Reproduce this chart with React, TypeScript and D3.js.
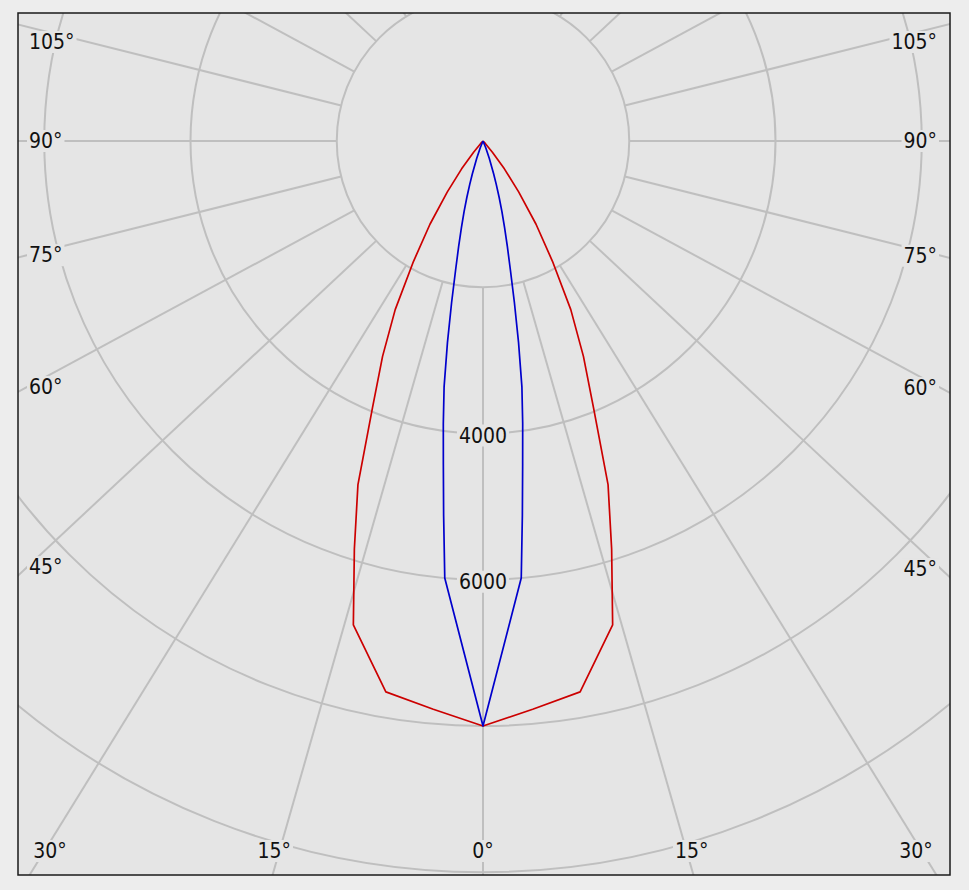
import React, { useEffect, useRef } from 'react';
import * as d3 from 'd3';

// ---- data (candela values) ----
const redAngles = [0, 5, 10, 15, 17.5, 20, 22.5, 25, 27.5, 30, 32.5, 35, 37.5, 40, 42.5, 45, 90];
const redValues = [8000, 7800, 7650, 6850, 5850, 5000, 3950, 3250, 2600, 1900, 1350, 850, 480, 200, 50, 0, 0];
const blueAngles = [0, 5, 6, 7, 8, 9, 10, 11, 12, 13, 14, 15, 16, 17, 18, 20, 22, 25, 90];
const blueValues = [8000, 6000, 5150, 4450, 3900, 3400, 2800, 2250, 1800, 1480, 1220, 1000, 800, 620, 470, 250, 100, 0, 0];
const ringValues = [2000, 4000, 6000, 8000, 10000, 12000];
const ringLabelValues = [4000, 6000];
const gridAngles = d3.range(0, 360, 15);
const sideLabelAngles = [105, 90, 75, 60, 45];
const bottomLabelAngles = [30, 15, 0];

const W = 969;
const H = 890;
const frame = { x0: 18, y0: 13, x1: 950, y1: 875 };
const cx = 483;
const cy = 141;
const maxValue = 8000;
const maxRadius = 585;
const xStretch = 1.07;
const gridColor = '#bfbfbf';
const plotBg = '#e5e5e5';
const pageBg = '#ededed';
const fontFamily = "'DejaVu Sans Condensed', 'Liberation Sans', sans-serif";
const fontSize = 21;

export default function App() {
  const ref = useRef<SVGSVGElement>(null);

  useEffect(() => {
    const svg = d3.select(ref.current);
    svg.selectAll('*').remove();
    const r = d3.scaleLinear().domain([0, maxValue]).range([0, maxRadius]);

    svg.append('rect').attr('width', W).attr('height', H).attr('fill', pageBg);
    const defs = svg.append('defs');
    defs.append('clipPath').attr('id', 'plotclip').append('rect')
      .attr('x', frame.x0).attr('y', frame.y0)
      .attr('width', frame.x1 - frame.x0).attr('height', frame.y1 - frame.y0);
    svg.append('rect')
      .attr('x', frame.x0).attr('y', frame.y0)
      .attr('width', frame.x1 - frame.x0).attr('height', frame.y1 - frame.y0)
      .attr('fill', plotBg);

    const g = svg.append('g').attr('clip-path', 'url(#plotclip)');

    // rings
    g.selectAll('circle.ring').data(ringValues).join('circle')
      .attr('class', 'ring')
      .attr('cx', cx).attr('cy', cy).attr('r', (d) => r(d))
      .attr('fill', 'none').attr('stroke', gridColor).attr('stroke-width', 2);

    const dir = (deg: number, side = 1) => {
      const t = (deg * Math.PI) / 180;
      const dx = side * xStretch * Math.sin(t);
      const dy = Math.cos(t);
      const n = Math.hypot(dx, dy);
      return [dx / n, dy / n];
    };

    // rays
    g.selectAll('line.ray').data(gridAngles).join('line')
      .attr('class', 'ray')
      .attr('x1', (d) => cx + dir(d)[0] * r(2000))
      .attr('y1', (d) => cy + dir(d)[1] * r(2000))
      .attr('x2', (d) => cx + dir(d)[0] * 2000)
      .attr('y2', (d) => cy + dir(d)[1] * 2000)
      .attr('stroke', gridColor).attr('stroke-width', 2);

    const labels = g.append('g');
    const addLabel = (x: number, y: number, text: string, anchor: string) => {
      const grp = labels.append('g');
      const rect = grp.append('rect').attr('fill', plotBg);
      const t = grp.append('text')
        .attr('x', x).attr('y', y)
        .attr('text-anchor', anchor)
        .attr('dominant-baseline', 'central')
        .attr('font-family', fontFamily)
        .attr('font-size', fontSize)
        .attr('fill', '#111')
        .text(text);
      const bb = (t.node() as SVGTextElement).getBBox();
      rect.attr('x', bb.x - 2).attr('y', bb.y + 1).attr('width', bb.width + 4).attr('height', bb.height - 2);
    };

    // ring labels
    ringLabelValues.forEach((v) => addLabel(cx, cy + r(v) + 2, String(v), 'middle'));

    // angle labels
    const inset = 9;
    sideLabelAngles.forEach((a) => {
      [-1, 1].forEach((s) => {
        const [dx, dy] = dir(a, s);
        const edgeX = s < 0 ? frame.x0 + inset : frame.x1 - inset;
        const t = (edgeX - cx) / dx;
        const y = Math.max(42, Math.min(851, cy + dy * t));
        addLabel(s < 0 ? 29 : 937, y, `${a}°`, s < 0 ? 'start' : 'end');
      });
    });
    bottomLabelAngles.forEach((a) => {
      (a === 0 ? [1] : [-1, 1]).forEach((s) => {
        const [dx, dy] = dir(a, s);
        const t = (frame.y1 - 6 - cy) / dy;
        const x = Math.max(50, Math.min(916, cx + dx * t));
        addLabel(x, 851, `${a}°`, 'middle');
      });
    });

    // curves
    const radial = d3.lineRadial<[number, number]>()
      .angle((d) => d[0])
      .radius((d) => r(d[1]));
    const pts = (angles: number[], vals: number[]): [number, number][] => {
      const left = angles.map((a, i) => [Math.PI + (a * Math.PI) / 180, vals[i]] as [number, number]).reverse();
      const right = angles.slice(1).map((a, i) => [Math.PI - (a * Math.PI) / 180, vals[i + 1]] as [number, number]);
      return [...left, ...right];
    };
    const cg = g.append('g').attr('transform', `translate(${cx},${cy})`);
    cg.append('path').attr('d', radial(pts(redAngles, redValues)) as string)
      .attr('fill', 'none').attr('stroke', '#cc0000').attr('stroke-width', 1.7).attr('stroke-linejoin', 'round');
    cg.append('path').attr('d', radial(pts(blueAngles, blueValues)) as string)
      .attr('fill', 'none').attr('stroke', '#0000cc').attr('stroke-width', 1.7).attr('stroke-linejoin', 'round');

    // frame
    svg.append('rect')
      .attr('x', frame.x0).attr('y', frame.y0)
      .attr('width', frame.x1 - frame.x0).attr('height', frame.y1 - frame.y0)
      .attr('fill', 'none').attr('stroke', '#1a1a1a').attr('stroke-width', 1.5);
  }, []);

  return (
    <div style={{ position: 'absolute', left: 0, top: 0 }}>
      <svg ref={ref} width={W} height={H} style={{ display: 'block' }} />
    </div>
  );
}
